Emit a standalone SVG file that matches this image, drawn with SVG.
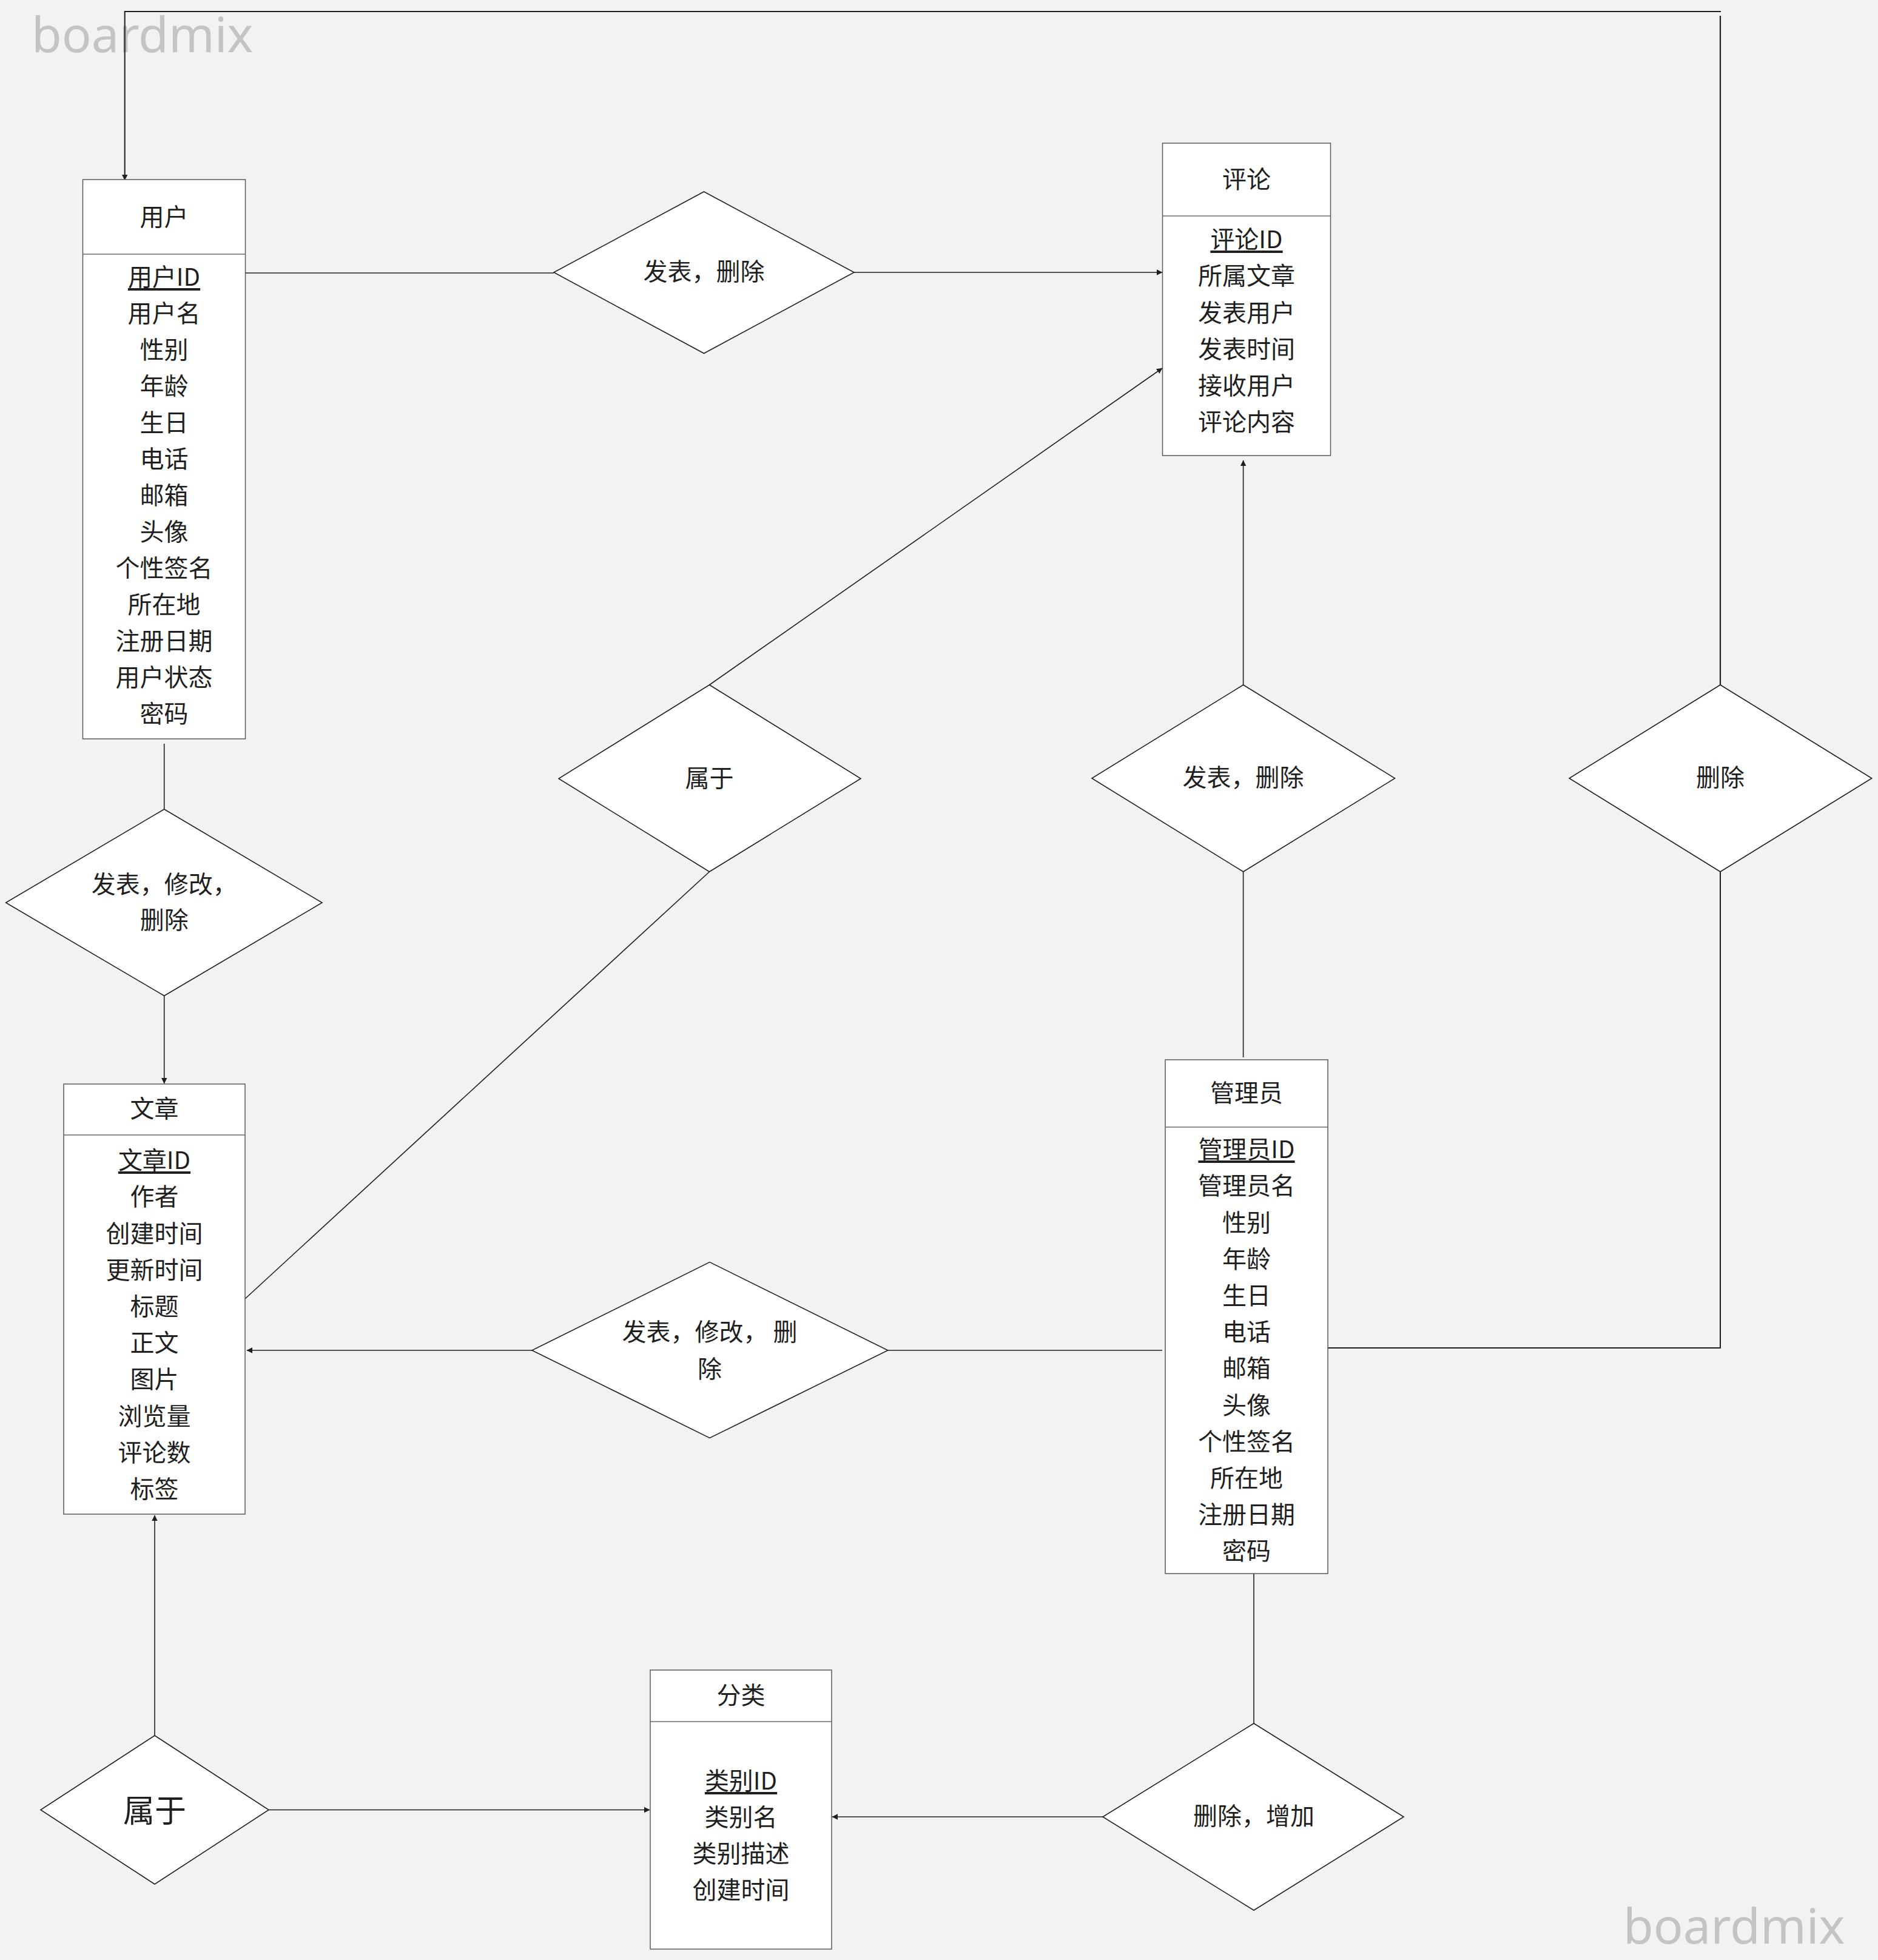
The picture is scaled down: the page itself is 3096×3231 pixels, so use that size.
<svg xmlns="http://www.w3.org/2000/svg" width="3096" height="3231" viewBox="0 0 3096 3231">
<style>
.bg{fill:#f2f2f2}
.box{fill:#ffffff;stroke:#5a5a5a;stroke-width:1.5}
.div{stroke:#6a6a6a;stroke-width:1.5}
.dia{fill:#ffffff;stroke:#222222;stroke-width:1.6}
.con{fill:none;stroke:#1e1e1e;stroke-width:1.6}
.t{font-family:"Noto Sans CJK SC","Noto Sans",sans-serif;font-size:40px;fill:#1f1f1f;text-anchor:middle;dominant-baseline:central;transform:translate(0px,-4px)}
.u{text-decoration:underline}
.wm{font-family:"Noto Sans","Open Sans",sans-serif;font-size:81px;fill:#c4c4c4}
</style>
<defs>
<marker id="arr" markerUnits="userSpaceOnUse" markerWidth="12" markerHeight="12" refX="9" refY="5" orient="auto">
<path d="M0,0.3 L9.5,5 L0,9.7 z" fill="#1e1e1e"/>
</marker>
</defs>
<rect class="bg" x="0" y="0" width="3096" height="3231"/>
<text class="wm" x="52" y="86">boardmix</text>
<text class="wm" x="2676" y="3204">boardmix</text>

<g id="connectors">
<path class="con" style="stroke-width:2.2" d="M2836,1129 V26"/>
<path class="con" style="stroke-width:2" d="M2837,19 H205.7 V297" marker-end="url(#arr)"/>
<path class="con" d="M404,450 H913"/>
<path class="con" d="M1408,449 H1916" marker-end="url(#arr)"/>
<path class="con" d="M1169.5,1129 L1916,607" marker-end="url(#arr)"/>
<path class="con" d="M1169.5,1437 L404,2141"/>
<path class="con" d="M2049.6,1129 V759" marker-end="url(#arr)"/>
<path class="con" d="M2049.6,1437 V1743"/>
<path class="con" style="stroke-width:2" d="M2836,1437 V2222 H2189"/>
<path class="con" d="M270.7,1226 V1334"/>
<path class="con" d="M270.7,1641.5 V1786" marker-end="url(#arr)"/>
<path class="con" d="M877,2226 H407" marker-end="url(#arr)"/>
<path class="con" d="M1916,2226 H1463.7"/>
<path class="con" d="M255,2861 V2498" marker-end="url(#arr)"/>
<path class="con" d="M443,2983.5 H1071" marker-end="url(#arr)"/>
<path class="con" d="M2067,2594 V2841"/>
<path class="con" d="M1818,2995 H1372" marker-end="url(#arr)"/>
</g>

<g id="user">
<rect class="box" x="136.5" y="296" width="268" height="922"/>
<line class="div" x1="136.5" y1="419" x2="404.5" y2="419"/>
<text class="t" x="270.5" y="359">用户</text>
<text class="t u" x="270.5" y="458">用户ID</text>
<text class="t" x="270.5" y="518">用户名</text>
<text class="t" x="270.5" y="578">性别</text>
<text class="t" x="270.5" y="638">年龄</text>
<text class="t" x="270.5" y="698">生日</text>
<text class="t" x="270.5" y="758">电话</text>
<text class="t" x="270.5" y="818">邮箱</text>
<text class="t" x="270.5" y="878">头像</text>
<text class="t" x="270.5" y="938">个性签名</text>
<text class="t" x="270.5" y="998">所在地</text>
<text class="t" x="270.5" y="1058">注册日期</text>
<text class="t" x="270.5" y="1118">用户状态</text>
<text class="t" x="270.5" y="1178">密码</text>
</g>

<g id="comment">
<rect class="box" x="1916.5" y="236" width="277" height="515"/>
<line class="div" x1="1916.5" y1="356" x2="2193.5" y2="356"/>
<text class="t" x="2055" y="296.5">评论</text>
<text class="t u" x="2055" y="396">评论ID</text>
<text class="t" x="2055" y="456">所属文章</text>
<text class="t" x="2055" y="516.5">发表用户</text>
<text class="t" x="2055" y="577">发表时间</text>
<text class="t" x="2055" y="637">接收用户</text>
<text class="t" x="2055" y="697">评论内容</text>
</g>

<g id="article">
<rect class="box" x="105" y="1787" width="299" height="709"/>
<line class="div" x1="105" y1="1871" x2="404" y2="1871"/>
<text class="t" x="254.5" y="1829">文章</text>
<text class="t u" x="254.5" y="1914">文章ID</text>
<text class="t" x="254.5" y="1974">作者</text>
<text class="t" x="254.5" y="2034.5">创建时间</text>
<text class="t" x="254.5" y="2094.5">更新时间</text>
<text class="t" x="254.5" y="2155">标题</text>
<text class="t" x="254.5" y="2215">正文</text>
<text class="t" x="254.5" y="2275">图片</text>
<text class="t" x="254.5" y="2335.5">浏览量</text>
<text class="t" x="254.5" y="2395.5">评论数</text>
<text class="t" x="254.5" y="2455.5">标签</text>
</g>

<g id="admin">
<rect class="box" x="1921" y="1747" width="268" height="847"/>
<line class="div" x1="1921" y1="1858" x2="2189" y2="1858"/>
<text class="t" x="2055" y="1803">管理员</text>
<text class="t u" x="2055" y="1896">管理员ID</text>
<text class="t" x="2055" y="1956">管理员名</text>
<text class="t" x="2055" y="2016.5">性别</text>
<text class="t" x="2055" y="2076.5">年龄</text>
<text class="t" x="2055" y="2137">生日</text>
<text class="t" x="2055" y="2197">电话</text>
<text class="t" x="2055" y="2257">邮箱</text>
<text class="t" x="2055" y="2317.5">头像</text>
<text class="t" x="2055" y="2377.5">个性签名</text>
<text class="t" x="2055" y="2438">所在地</text>
<text class="t" x="2055" y="2498">注册日期</text>
<text class="t" x="2055" y="2558">密码</text>
</g>

<g id="category">
<rect class="box" x="1072" y="2753" width="299" height="460"/>
<line class="div" x1="1072" y1="2838" x2="1371" y2="2838"/>
<text class="t" x="1221.5" y="2796">分类</text>
<text class="t u" x="1221.5" y="2937">类别ID</text>
<text class="t" x="1221.5" y="2997">类别名</text>
<text class="t" x="1221.5" y="3057">类别描述</text>
<text class="t" x="1221.5" y="3117">创建时间</text>
</g>

<g id="rel-user-comment">
<polygon class="dia" points="1160.5,316 1408,449 1160.5,582.5 913,449"/>
<text class="t" x="1160.5" y="449">发表，删除</text>
</g>

<g id="rel-belong-comment">
<polygon class="dia" points="1169.5,1129 1419,1283.5 1169.5,1437 921,1283.5"/>
<text class="t" x="1169.5" y="1283.5">属于</text>
</g>

<g id="rel-admin-comment">
<polygon class="dia" points="2049.6,1129 2299.5,1283 2049.6,1437 1800,1283"/>
<text class="t" x="2049.6" y="1283">发表，删除</text>
</g>

<g id="rel-admin-user">
<polygon class="dia" points="2836,1129 3085.7,1283 2836,1437 2587,1283"/>
<text class="t" x="2836" y="1283">删除</text>
</g>

<g id="rel-user-article">
<polygon class="dia" points="270.7,1334 531,1488 270.7,1641.5 9.6,1488"/>
<text class="t" x="270.7" y="1459">发表，修改，</text>
<text class="t" x="270.7" y="1518">删除</text>
</g>

<g id="rel-admin-article">
<polygon class="dia" points="1170,2080.6 1463.7,2226 1170,2370.4 877,2226"/>
<text class="t" x="1170" y="2197">发表，修改， 删</text>
<text class="t" x="1170" y="2257.5">除</text>
</g>

<g id="rel-article-category">
<polygon class="dia" points="255,2861 443,2983.5 255,3106 67,2983.5"/>
<text class="t" x="255" y="2985" style="font-size:52px">属于</text>
</g>

<g id="rel-admin-category">
<polygon class="dia" points="2067,2841 2314,2995 2067,3149 1818,2995"/>
<text class="t" x="2067" y="2995">删除，增加</text>
</g>
</svg>
